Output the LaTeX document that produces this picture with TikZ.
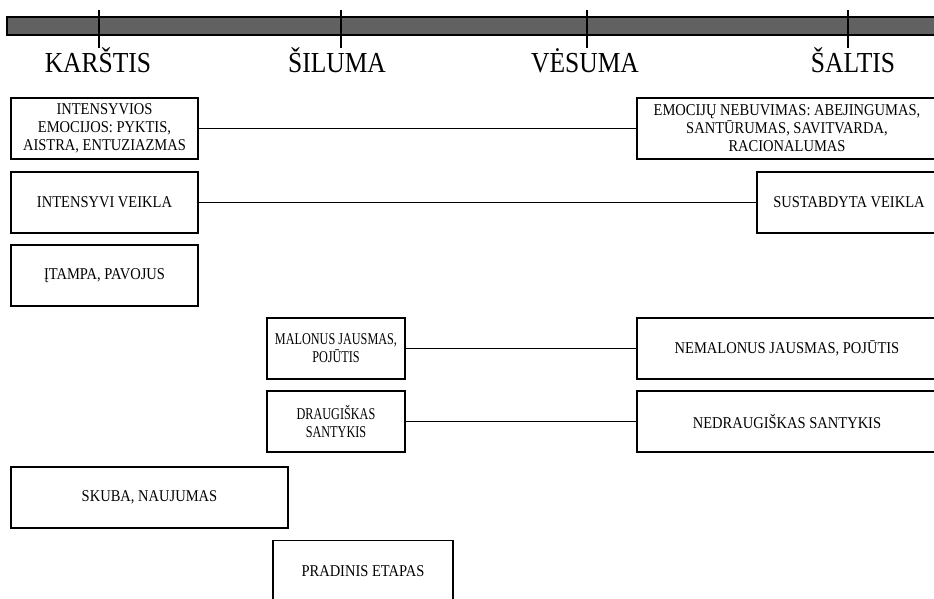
\documentclass[tikz,border=0pt]{standalone}
\usepackage{fontspec}
\setmainfont{Liberation Serif}[FakeStretch=0.88]
\newfontfamily\narrowserif{Liberation Serif}[FakeStretch=0.74]
\begin{document}
\begin{tikzpicture}[x=1pt,y=-1pt,
  box/.style={draw=black, line width=1.3pt, rectangle, inner sep=1pt, align=center,
    font=\fontsize{16.5}{18}\selectfont},
  narrowbox/.style={box, font=\narrowserif\fontsize{16.5}{18}\selectfont},
  scalelabel/.style={anchor=base, font=\fontsize{29}{32}\selectfont},
  link/.style={draw=black, line width=1.3pt},
  tick/.style={draw=black, line width=1.6pt}]
\useasboundingbox (0,0) rectangle (934,598);
% scale bar
\filldraw[fill=black!62, draw=black, line width=1.2pt] (7,17) rectangle (945,35);
\foreach \x in {99,341,587,848} \draw[tick] (\x,10) -- (\x,48);
\node[scalelabel] (k) at (98,72) {KARŠTIS};
\node[scalelabel] (s) at (337,72) {ŠILUMA};
\node[scalelabel] (v) at (585,72) {VĖSUMA};
\node[scalelabel] (a) at (853,72) {ŠALTIS};
% boxes
\node[box, minimum width=187, minimum height=61] (b1) at (104.5,128.5) {INTENSYVIOS\\EMOCIJOS: PYKTIS,\\AISTRA, ENTUZIAZMAS};
\node[box, minimum width=300, minimum height=61] (b2) at (787,128.5) {EMOCIJŲ NEBUVIMAS: ABEJINGUMAS,\\SANTŪRUMAS, SAVITVARDA,\\RACIONALUMAS};
\node[box, minimum width=187, minimum height=61] (b3) at (104.5,202.5) {INTENSYVI VEIKLA};
\node[box, minimum width=184, minimum height=61] (b4) at (849,202.5) {SUSTABDYTA VEIKLA};
\node[box, minimum width=187, minimum height=61] (b5) at (104.5,275.5) {ĮTAMPA, PAVOJUS};
\node[narrowbox, minimum width=138, minimum height=61] (b6) at (336,348.5) {MALONUS JAUSMAS,\\POJŪTIS};
\node[box, minimum width=300, minimum height=61] (b7) at (787,348.5) {NEMALONUS JAUSMAS, POJŪTIS};
\node[narrowbox, minimum width=138, minimum height=61] (b8) at (336,421.5) {DRAUGIŠKAS\\SANTYKIS};
\node[box, minimum width=300, minimum height=61] (b9) at (787,421.5) {NEDRAUGIŠKAS SANTYKIS};
\node[box, minimum width=277, minimum height=61] (b10) at (149.5,497.5) {SKUBA, NAUJUMAS};
\node[box, minimum width=180, minimum height=61] (b11) at (363,571) {PRADINIS ETAPAS};
% connectors
\draw[link] (b1.east) -- (b2.west);
\draw[link] (b3.east) -- (b4.west);
\draw[link] (b6.east) -- (b7.west);
\draw[link] (b8.east) -- (b9.west);
\end{tikzpicture}
\end{document}
